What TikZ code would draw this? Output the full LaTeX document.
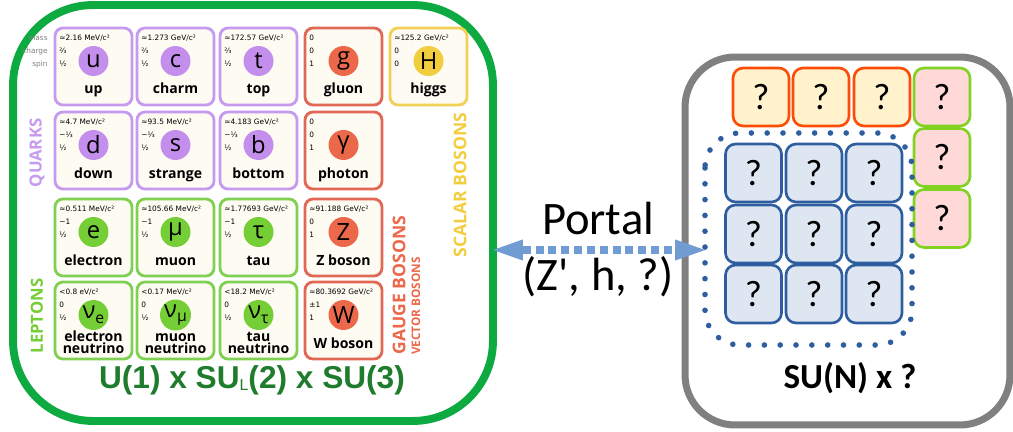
\documentclass[tikz,border=0pt]{standalone}
\usepackage{fontspec}
\setmainfont{Open Sans}
\newfontfamily\infofont{DejaVu Sans}
\newfontfamily\calfont{Carlito}
\newfontfamily\arialfont{Liberation Sans}
\usetikzlibrary{arrows.meta}
\tikzset {>=Stealth}
\definecolor{quarkedge}{RGB}{198,154,238}
\definecolor{quarkball}{RGB}{196,142,236}
\definecolor{leptonedge}{RGB}{128,208,84}
\definecolor{leptonball}{RGB}{118,206,54}
\definecolor{gaugeedge}{RGB}{226,104,86}
\definecolor{gaugeball}{RGB}{236,104,74}
\definecolor{scalaredge}{RGB}{242,208,86}
\definecolor{scalarball}{RGB}{242,206,62}
\definecolor{cream}{RGB}{253,251,242}
\definecolor{smgreen}{RGB}{12,170,64}
\definecolor{labelgreen}{RGB}{30,124,44}
\definecolor{framegray}{RGB}{128,128,128}
\definecolor{portalblue}{RGB}{112,156,210}
\definecolor{gridblue}{RGB}{46,94,160}
\definecolor{gridfill}{RGB}{221,230,241}
\definecolor{qorange}{RGB}{252,78,8}
\definecolor{qyellow}{RGB}{255,242,204}
\definecolor{qpink}{RGB}{255,216,216}
\definecolor{qgreen}{RGB}{130,210,34}
\newcommand*{\fs}[1]{\fontsize{#1}{#1}\selectfont}
\newcommand*{\mev}{MeV/c²}
\newcommand*{\gev}{GeV/c²}
\newcommand*{\ev}{eV/c²}
\newcommand*{\nusub}[1]{ν\raisebox{-.2em}{\fs{9pt}#1}}
\newcommand*{\lsub}[1]{\raisebox{-1.7pt}{\mdseries\fs{9pt}#1}}

\begin{document}
\begin{tikzpicture}[x=0.02cm,y=-0.02cm,
  box/.style={draw=#1,inner sep=0pt,outer sep=0pt},
  cell/.style={draw=#1edge,fill=cream,line width=1.6pt,rounded corners=0.16cm,
    minimum width=1.54cm,minimum height=1.54cm,inner sep=0pt},
  ball/.style={circle,fill=#1ball,minimum size=0.6cm,inner sep=0pt,font=\fs{13.5pt}},
  info/.style={anchor=base west,inner sep=0pt,font={\infofont\fs{4.2pt}}},
  pname/.style={anchor=base,inner sep=0pt,align=center,
    font={\bfseries\fontsize{8pt}{6.8pt}\selectfont}},
  side/.style={rotate=90,inner sep=0pt,text=#1,font={\bfseries\fs{9.5pt}}},
  qbox/.style={draw=#1,line width=1.5pt,rounded corners=0.2cm,minimum width=1.12cm,
    minimum height=1.16cm,inner sep=0pt,font={\calfont\fs{21pt}}},
  portal/.style={draw=portalblue,line width=4pt,dash pattern=on 4.5pt off 2.8pt,
    {Triangle[length=17pt,width=12pt,line width=0pt]}-{Triangle[length=17pt,width=12pt,line width=0pt]}}]
\useasboundingbox (0,0) rectangle (1013,432);
\node[box=smgreen,line width=4.5pt,rounded corners=1.6cm,minimum width=9.6cm,
  minimum height=8.32cm] (sm) at (253,213) {};
\node[box=framegray,line width=4pt,rounded corners=1cm,minimum width=6.5cm,
  minimum height=7.36cm] (bsm) at (847.5,241) {};

\foreach \x/\y/\kind/\sym/\mass/\chg/\spn/\nb/\nm in {
  55/28/quark/u/{≈2.16 \mev}/⅔/½/66/up,
  137/28/quark/c/{≈1.273 \gev}/⅔/½/66/charm,
  220/28/quark/t/{≈172.57 \gev}/⅔/½/66/top,
  305/28/gauge/g/0/0/1/66/gluon,
  390/28/scalar/H/{≈125.2 \gev}/0/0/66/higgs,
  55/112/quark/d/{≈4.7 \mev}/−⅓/½/66/down,
  137/112/quark/s/{≈93.5 \mev}/−⅓/½/66/strange,
  220/112/quark/b/{≈4.183 \gev}/−⅓/½/66/bottom,
  305/112/gauge/γ/0/0/1/66/photon,
  55/199/lepton/e/{≈0.511 \mev}/−1/½/66/electron,
  137/199/lepton/μ/{≈105.66 \mev}/−1/½/66/muon,
  220/199/lepton/τ/{≈1.77693 \gev}/−1/½/66/tau,
  305/199/gauge/Z/{≈91.188 \gev}/0/1/66/Z boson,
  55/282/lepton/{\nusub{e}}/{<0.8 \ev}/0/½/71/{electron\\neutrino},
  137/282/lepton/{\nusub{μ}}/{<0.17 \mev}/0/½/71/{muon\\neutrino},
  220/282/lepton/{\nusub{τ}}/{<18.2 \mev}/0/½/71/{tau\\neutrino},
  305/282/gauge/W/{≈80.3692 \gev}/±1/1/66/W boson}{
  \node[cell=\kind] (c-\x-\y) at (\x+38.5,\y+38.5) {};
  \node[info] (m-\x-\y) at (\x+4,\y+12.5) {\mass};
  \node[info] (q-\x-\y) at (\x+4,\y+25.5) {\chg};
  \node[info] (s-\x-\y) at (\x+4,\y+38.5) {\spn};
  \node[ball=\kind] (b-\x-\y) at (\x+38.5,\y+33) {\sym};
  \node[pname] (n-\x-\y) at (\x+38.5,\y+\nb) {\nm};
}
\node[info,anchor=base east,text=gray] (mass) at (48,40.5) {mass};
\node[info,anchor=base east,text=gray] (charge) at (48,53.5) {charge};
\node[info,anchor=base east,text=gray] (spin) at (48,66.5) {spin};

\node[side=quarkedge] (quarks) at (37,153) {QUARKS};
\node[side=leptonball] (leptons) at (37,316) {LEPTONS};
\node[side=gaugeball,font={\bfseries\fs{10pt}}] (gauge) at (399,285) {GAUGE BOSONS};
\node[side=gaugeball,font={\bfseries\fs{6.7pt}}] (vector) at (416,306) {VECTOR BOSONS};
\node[side=scalarball,font={\bfseries\fs{10pt}}] (scalar) at (460,185) {SCALAR BOSONS};
\node[anchor=base,inner sep=0pt,text=labelgreen,font={\arialfont\bfseries\fs{18pt}}]
  (smgroup) at (252,388) {U(1) x SU\lsub{L}(2) x SU(3)};

\foreach \i/\x in {1/761,2/821,3/882}
  \node[qbox=qorange,fill=qyellow] (t\i) at (\x,97) {?};
\foreach \i/\y in {1/97,2/157.5,3/218.5}
  \node[qbox=qgreen,fill=qpink] (p\i) at (942,\y) {?};
\foreach \i/\x in {1/753.5,2/814,3/874}
  \foreach \j/\y in {1/173,2/234,3/294}
    \node[qbox=gridblue,fill=gridfill] (g\i\j) at (\x,\y) {?};
\draw[gridblue,line width=3.2pt,line cap=round,dash pattern=on 0pt off 9pt,
  rounded corners=0.7cm] (705,133) rectangle (912,345);
\node[anchor=base,inner sep=0pt,font={\calfont\bfseries\fs{20pt}}] (bsmgroup) at (850,388) {SU(N) x ?};

\node[anchor=base,inner sep=0pt,font={\calfont\fs{26.5pt}}] (portaltext) at (598,235) {Portal};
\node[anchor=base,inner sep=0pt,font={\calfont\fs{26.5pt}}] (carriers) at (598,290) {(Z\char"27, h, ?)};
\coordinate (axis) at (598,250);
\coordinate (tip) at ([xshift=0.4cm]bsm.west);
\draw[portal] (sm.east |- axis) -- (tip |- axis);
\end{tikzpicture}
\end{document}
